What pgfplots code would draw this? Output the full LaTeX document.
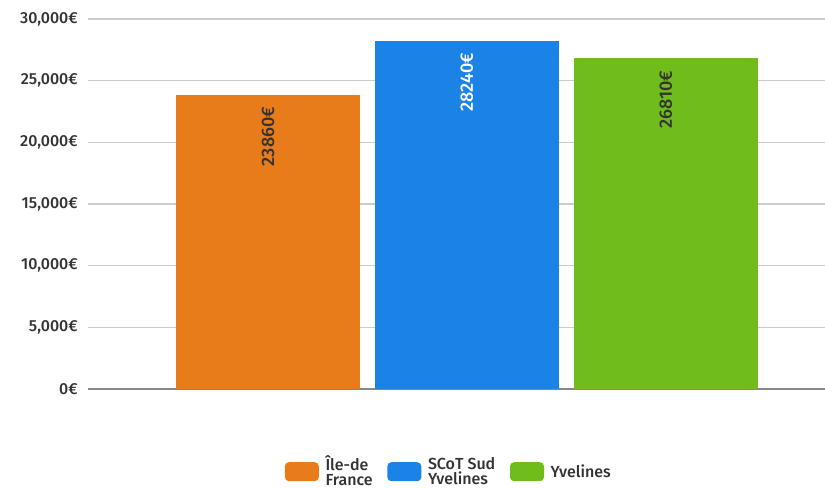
\documentclass[border=0pt]{standalone}
\usepackage{pgfplots}
\pgfplotsset{compat=1.18}
\usepackage{fontspec}
\setmainfont{Fira Sans}[BoldFont={Fira Sans Medium}]
\definecolor{cOrange}{HTML}{E87C1A}
\definecolor{cBlue}{HTML}{1B83E5}
\definecolor{cGreen}{HTML}{70BC1A}
\definecolor{txt}{HTML}{333333}
\definecolor{gridc}{HTML}{CCCCCC}
\definecolor{basec}{HTML}{888888}
\begin{document}
\begin{tikzpicture}
\path[use as bounding box] (0pt,0pt) rectangle (618.75pt,365.25pt);
\clip (0pt,0pt) rectangle (618.75pt,365.25pt);
\begin{axis}[
  at={(66pt,73.5pt)}, anchor=south west,
  scale only axis, width=552.75pt, height=277.5pt,
  xmin=-0.905, xmax=2.80, ymin=0, ymax=30000,
  ytick={0,5000,10000,15000,20000,25000,30000},
  yticklabels={{0€},{5,000€},{10,000€},{15,000€},{20,000€},{25,000€},{30,000€}},
  scaled y ticks=false,
  xtick=\empty,
  axis line style={draw=none},
  major tick length=0pt,
  ymajorgrids, grid style={draw=gridc, line width=0.9pt},
  extra y ticks={0}, extra y tick labels={},
  extra y tick style={grid style={draw=basec, line width=1pt}},
  yticklabel style={font=\fontsize{12}{12}\selectfont\bfseries, text=txt, anchor=east, inner sep=0pt, xshift=-7.5pt},
  /pgf/number format/assume math mode=true,
  ybar, bar width=138pt,
  nodes near coords={\pgfmathprintnumber[1000 sep={}]{\pgfplotspointmeta}€},
  every node near coord/.append style={rotate=90, anchor=east, inner xsep=9pt, font=\fontsize{13.5}{13.5}\selectfont\bfseries},
  legend columns=3,
  legend style={at={(0.49,-0.172)}, anchor=north, draw=none, fill=none, inner sep=0pt,
     font=\fontsize{12}{11.5}\selectfont\bfseries, text=txt,
     cells={align=left, anchor=west},
     /tikz/every even column/.append style={column sep=9pt}},
]
\addplot[fill=cOrange, draw=none, bar shift=0pt, nodes near coords style={text=txt},
  legend image code/.code={\fill[cOrange, rounded corners=3pt] (0pt,-7.1pt) rectangle (25.5pt,7.1pt); \path (28.5pt,0pt);}]
  coordinates {(0,23860)};
\addlegendentry{Île-de\\France}
\addplot[fill=cBlue, draw=none, bar shift=0pt, nodes near coords style={text=white},
  legend image code/.code={\fill[cBlue, rounded corners=3pt] (0pt,-7.1pt) rectangle (25.5pt,7.1pt); \path (28.5pt,0pt);}]
  coordinates {(1,28240)};
\addlegendentry{SCoT Sud\\Yvelines}
\addplot[fill=cGreen, draw=none, bar shift=0pt, nodes near coords style={text=txt},
  legend image code/.code={\fill[cGreen, rounded corners=3pt] (0pt,-7.1pt) rectangle (25.5pt,7.1pt); \path (28.5pt,0pt);}]
  coordinates {(2,26810)};
\addlegendentry{Yvelines}
\end{axis}
\end{tikzpicture}
\end{document}
